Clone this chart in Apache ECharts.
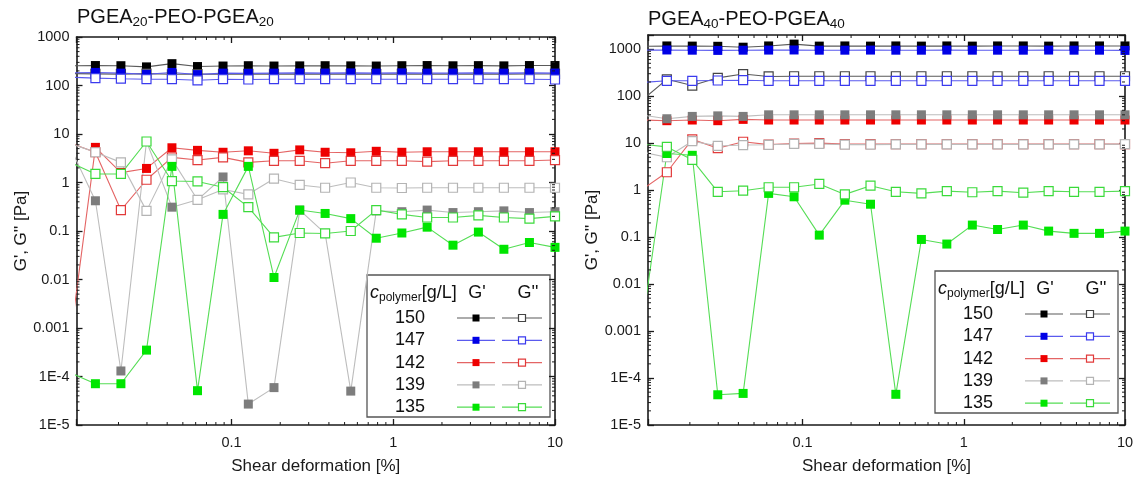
<!DOCTYPE html>
<html>
<head>
<meta charset="utf-8">
<script src="https://cdn.jsdelivr.net/npm/echarts@6/dist/echarts.min.js"></script>
<style>
  html, body { margin: 0; padding: 0; background: #ffffff; }
  #chart { width: 1139px; height: 481px; }
</style>
</head>
<body>
<div id="chart"></div>
<script>
// Shear deformation (%) of each amplitude-sweep point
const strain = [0.01, 0.0144, 0.0207, 0.0298, 0.0428, 0.0616, 0.0886, 0.127, 0.183, 0.264,
                0.379, 0.546, 0.785, 1.13, 1.62, 2.34, 3.36, 4.83, 6.95, 10];

// Polymer concentrations, g/L
const concentrations = ['150', '147', '142', '139', '135'];

// Tick labels
const xTickLabels = { '-1': '0.1', '0': '1', '1': '10' };
const yTickLabels = { '-5': '1E-5', '-4': '1E-4', '-3': '0.001', '-2': '0.01', '-1': '0.1',
                      '0': '1', '1': '10', '2': '100', '3': '1000' };

// PGEA20-PEO-PGEA20 : storage (G') and loss (G'') moduli, Pa
const p20_150_storage = [255, 258, 256, 242, 282, 246, 252, 256, 252, 254, 256, 254, 252, 256, 258, 255, 257, 254, 258, 258];
const p20_150_loss    = [176, 174, 172, 176, 170, 172, 171, 173, 172, 172, 173, 172, 172, 173, 172, 173, 172, 172, 173, 173];
const p20_147_storage = [182, 186, 180, 170, 186, 168, 180, 178, 180, 182, 180, 182, 180, 182, 180, 180, 182, 180, 182, 180];
const p20_147_loss    = [148, 142, 138, 135, 135, 128, 135, 133, 135, 135, 135, 135, 135, 135, 135, 135, 135, 135, 135, 133];
const p20_142_storage = [0.0005, 5.3, 1.6, 1.95, 5.2, 4.6, 4.2, 4.5, 4.0, 4.7, 4.2, 4.1, 4.4, 4.2, 4.3, 4.3, 4.3, 4.3, 4.3, 4.3];
const p20_142_loss    = [6.5, 4.2, 0.27, 1.14, 3.3, 2.9, 3.3, 2.6, 2.8, 2.8, 2.5, 2.8, 2.8, 2.8, 2.7, 2.8, 2.8, 2.8, 2.8, 2.9];
const p20_139_storage = [5.5, 0.42, 1.3e-4, 7.0, 0.31, 0.44, 1.3, 2.7e-5, 5.9e-5, 0.27, 0.089, 5.0e-5, 0.26, 0.25, 0.27, 0.24, 0.25, 0.26, 0.24, 0.25];
const p20_139_loss    = [6.4, 4.2, 2.6, 0.26, 3.0, 0.44, 0.72, 0.57, 1.2, 0.89, 0.78, 1.0, 0.78, 0.77, 0.78, 0.78, 0.78, 0.78, 0.78, 0.78];
const p20_135_storage = [1.2e-4, 7.1e-5, 7.1e-5, 3.5e-4, 2.15, 5.1e-5, 0.22, 2.15, 0.011, 0.27, 0.23, 0.18, 0.071, 0.091, 0.12, 0.051, 0.095, 0.042, 0.058, 0.046];
const p20_135_loss    = [2.6, 1.5, 1.5, 7.0, 1.07, 1.05, 0.8, 0.31, 0.074, 0.091, 0.089, 0.1, 0.27, 0.22, 0.19, 0.19, 0.21, 0.19, 0.18, 0.2];

// PGEA40-PEO-PGEA40 : storage (G') and loss (G'') moduli, Pa
const p40_150_storage = [1150, 1170, 1160, 1150, 1100, 1170, 1280, 1160, 1170, 1160, 1170, 1160, 1170, 1160, 1170, 1170, 1160, 1170, 1170, 1170];
const p40_150_loss    = [80, 228, 168, 245, 295, 262, 265, 265, 265, 265, 265, 265, 265, 265, 265, 265, 265, 265, 265, 265];
const p40_147_storage = [950, 960, 950, 940, 950, 955, 960, 950, 950, 955, 950, 950, 955, 950, 950, 950, 955, 950, 950, 940];
const p40_147_loss    = [195, 212, 212, 215, 218, 212, 212, 212, 212, 212, 212, 212, 212, 212, 212, 212, 212, 212, 212, 212];
const p40_142_storage = [31, 30, 31, 30, 32, 31, 31, 31, 31, 31, 31, 31, 31, 31, 31, 31, 31, 31, 31, 31];
const p40_142_loss    = [1.0, 2.4, 12, 7.8, 10.7, 9.3, 9.8, 10, 9.5, 9.5, 9.5, 9.5, 9.5, 9.5, 9.5, 9.5, 9.5, 9.5, 9.5, 9.5];
const p40_139_storage = [40, 33, 37, 38, 37, 40, 40, 40, 40, 40, 40, 40, 40, 40, 40, 40, 40, 40, 40, 40];
const p40_139_loss    = [6.5, 5.0, 11, 8.7, 9.1, 9.2, 9.6, 9.6, 9.3, 9.3, 9.4, 9.4, 9.4, 9.4, 9.4, 9.4, 9.4, 9.4, 9.4, 9.5];
const p40_135_storage = [1e-3, 6.0, 5.5, 4.4e-5, 4.7e-5, 0.85, 0.72, 0.11, 0.61, 0.5, 4.5e-5, 0.089, 0.071, 0.18, 0.145, 0.18, 0.134, 0.12, 0.12, 0.134];
const p40_135_loss    = [9.5, 8.3, 4.4, 0.92, 0.97, 1.15, 1.15, 1.35, 0.81, 1.24, 0.92, 0.85, 0.95, 0.9, 0.95, 0.88, 0.95, 0.92, 0.92, 0.95];

const panelData = [
  { '150': [p20_150_storage, p20_150_loss], '147': [p20_147_storage, p20_147_loss],
    '142': [p20_142_storage, p20_142_loss], '139': [p20_139_storage, p20_139_loss],
    '135': [p20_135_storage, p20_135_loss] },
  { '150': [p40_150_storage, p40_150_loss], '147': [p40_147_storage, p40_147_loss],
    '142': [p40_142_storage, p40_142_loss], '139': [p40_139_storage, p40_139_loss],
    '135': [p40_135_storage, p40_135_loss] }
];

// ---- styling ----
const FONT = "'Liberation Sans', Arial, sans-serif";
const AXIS = '#1a1a1a';
const markColor = { '150': '#000000', '147': '#0000e6', '142': '#ee0000', '139': '#7d7d7d', '135': '#00e600' };
const openColor = { '150': '#444444', '147': '#3a3aee', '142': '#e23a3a', '139': '#b4b4b4', '135': '#3ada3a' };
const lineColor = { '150': '#5a5a5a', '147': '#5a5aee', '142': '#e46464', '139': '#bdbdbd', '135': '#55dd55' };

const xRange = [0.011, 10];
const yRanges = [[1e-5, 1000], [1e-5, 2000]];
const grids = [
  { left: 76.5, top: 37, width: 478.5, height: 388 },
  { left: 648, top: 35, width: 477, height: 390 }
];

function isPow10(v) {
  const e = Math.log10(v);
  return Math.abs(e - Math.round(e)) < 1e-6 ? String(Math.round(e)) : null;
}

function xAxis(gi, pos) {
  const main = pos === 'bottom';
  return {
    type: 'log', logBase: 10, gridIndex: gi, position: pos,
    min: xRange[0], max: xRange[1],
    name: main ? 'Shear deformation [%]' : '',
    nameLocation: 'middle', nameGap: 33,
    nameTextStyle: { fontFamily: FONT, fontSize: 17, color: '#1a1a1a' },
    axisLine: { show: true, onZero: false, lineStyle: { color: AXIS, width: 1.6 } },
    axisTick: { show: true, inside: true, length: 6, lineStyle: { color: AXIS, width: 1.3 } },
    axisLabel: main ? {
      show: true, margin: 10, fontFamily: FONT, fontSize: 14.5, color: '#1a1a1a',
      formatter: v => { const k = isPow10(v); return k !== null && xTickLabels[k] ? xTickLabels[k] : ''; }
    } : { show: false },
    splitLine: { show: false }
  };
}

function yAxis(gi, pos) {
  const main = pos === 'left';
  return {
    type: 'log', logBase: 10, gridIndex: gi, position: pos,
    min: yRanges[gi][0], max: yRanges[gi][1],
    name: main ? "G', G'' [Pa]" : '',
    nameLocation: 'middle', nameGap: 44, nameRotate: 90,
    nameTextStyle: { fontFamily: FONT, fontSize: 17, color: '#1a1a1a' },
    axisLine: { show: true, onZero: false, lineStyle: { color: AXIS, width: 1.6 } },
    axisTick: { show: true, inside: true, length: 6, lineStyle: { color: AXIS, width: 1.3 } },
    axisLabel: main ? {
      show: true, margin: 7, fontFamily: FONT, fontSize: 14.5, color: '#1a1a1a',
      formatter: v => { const k = isPow10(v); return k !== null && yTickLabels[k] ? yTickLabels[k] : ''; }
    } : { show: false },
    splitLine: { show: false }
  };
}

// minor ticks (2..9 of every decade) on all four sides of a panel
const minorMultiples = [2, 3, 4, 5, 6, 7, 8, 9];
function minorTickItems(gi) {
  const items = [];
  for (let e = -3; e <= 1; e++) {
    minorMultiples.forEach(m => {
      const v = m * Math.pow(10, e);
      if (v > xRange[0] && v < xRange[1]) items.push([v, 1, 0]);
    });
  }
  for (let e = -6; e <= 3; e++) {
    minorMultiples.forEach(m => {
      const v = m * Math.pow(10, e);
      if (v > yRanges[gi][0] && v < yRanges[gi][1]) items.push([1, v, 1]);
    });
  }
  return items;
}

function minorTickSeries(gi) {
  return {
    type: 'custom', xAxisIndex: gi * 2, yAxisIndex: gi * 2, silent: true, clip: false, z: 5,
    data: minorTickItems(gi),
    renderItem: (params, api) => {
      const cs = params.coordSys;
      const st = { stroke: AXIS, lineWidth: 1 };
      const L = 3;
      if (api.value(2) === 0) {
        const px = api.coord([api.value(0), 1])[0];
        return { type: 'group', children: [
          { type: 'line', shape: { x1: px, y1: cs.y + cs.height, x2: px, y2: cs.y + cs.height - L }, style: st },
          { type: 'line', shape: { x1: px, y1: cs.y, x2: px, y2: cs.y + L }, style: st }
        ] };
      }
      const py = api.coord([1, api.value(1)])[1];
      return { type: 'group', children: [
        { type: 'line', shape: { x1: cs.x, y1: py, x2: cs.x + L, y2: py }, style: st },
        { type: 'line', shape: { x1: cs.x + cs.width, y1: py, x2: cs.x + cs.width - L, y2: py }, style: st }
      ] };
    }
  };
}

function dataSeries(gi) {
  const out = [];
  concentrations.forEach(c => {
    [0, 1].forEach(k => {
      const vals = panelData[gi][c][k];
      out.push({
        type: 'line', name: c + (k === 0 ? " G'" : " G''"),
        xAxisIndex: gi * 2, yAxisIndex: gi * 2,
        data: strain.map((x, i) => [x, vals[i]]),
        symbol: 'rect', symbolSize: 9, showSymbol: true, clip: true,
        lineStyle: { color: lineColor[c], width: 1.1 },
        itemStyle: k === 0
          ? { color: markColor[c], borderWidth: 0 }
          : { color: '#ffffff', borderColor: openColor[c], borderWidth: 1.2 },
        emphasis: { disabled: true },
        z: 3
      });
    });
  });
  return out;
}

// ---- titles and legend tables ----
const titleRich = {
  a: { fontFamily: FONT, fontSize: 20, fill: '#111' },
  s: { fontFamily: FONT, fontSize: 13.5, fill: '#111', padding: [11, 0, 0, 0] }
};
function titleText(x, y, n) {
  return {
    type: 'text', left: x, top: y,
    style: { text: '{a|PGEA}{s|' + n + '}{a|-PEO-PGEA}{s|' + n + '}', rich: titleRich }
  };
}

function legendGroup(x0, y0) {
  const children = [];
  children.push({ type: 'rect', shape: { x: 0, y: 0, width: 183, height: 142 },
                  style: { fill: '#ffffff', stroke: '#555555', lineWidth: 1.3 } });
  children.push({ type: 'text', x: 3, y: 18,
    style: {
      text: '{c|c}{p|polymer}{u|[g/L]}', verticalAlign: 'middle',
      rich: {
        c: { fontFamily: FONT, fontSize: 18, fontStyle: 'italic', fill: '#111' },
        p: { fontFamily: FONT, fontSize: 12, fill: '#111', padding: [10, 0, 0, 0] },
        u: { fontFamily: FONT, fontSize: 18, fill: '#111' }
      }
    } });
  children.push({ type: 'text', x: 110, y: 18,
    style: { text: "G'", fontFamily: FONT, fontSize: 18, fill: '#111', align: 'center', verticalAlign: 'middle' } });
  children.push({ type: 'text', x: 161, y: 18,
    style: { text: "G''", fontFamily: FONT, fontSize: 18, fill: '#111', align: 'center', verticalAlign: 'middle' } });
  concentrations.forEach((c, r) => {
    const y = 43 + r * 22.3;
    children.push({ type: 'text', x: 43, y: y,
      style: { text: c, fontFamily: FONT, fontSize: 18, fill: '#111', align: 'center', verticalAlign: 'middle' } });
    children.push({ type: 'line', shape: { x1: 90, y1: y, x2: 128, y2: y }, style: { stroke: lineColor[c], lineWidth: 1.2 } });
    children.push({ type: 'rect', shape: { x: 105.5, y: y - 3.5, width: 7, height: 7 }, style: { fill: markColor[c] } });
    children.push({ type: 'line', shape: { x1: 135, y1: y, x2: 175, y2: y }, style: { stroke: lineColor[c], lineWidth: 1.2 } });
    children.push({ type: 'rect', shape: { x: 151.5, y: y - 3.5, width: 7, height: 7 },
                    style: { fill: '#ffffff', stroke: openColor[c], lineWidth: 1.2 } });
  });
  return { type: 'group', x: x0, y: y0, children: children, z: 50 };
}

const chart = echarts.init(document.getElementById('chart'), null, { renderer: 'canvas' });
chart.setOption({
  animation: false,
  backgroundColor: '#ffffff',
  grid: grids.map(g => Object.assign({ containLabel: false }, g)),
  xAxis: [xAxis(0, 'bottom'), xAxis(0, 'top'), xAxis(1, 'bottom'), xAxis(1, 'top')],
  yAxis: [yAxis(0, 'left'), yAxis(0, 'right'), yAxis(1, 'left'), yAxis(1, 'right')],
  series: [].concat(dataSeries(0), dataSeries(1), [minorTickSeries(0), minorTickSeries(1)]),
  graphic: [
    titleText(77, 7, '20'),
    titleText(648, 9, '40'),
    legendGroup(367, 275),
    legendGroup(935, 271)
  ]
});
</script>
</body>
</html>
